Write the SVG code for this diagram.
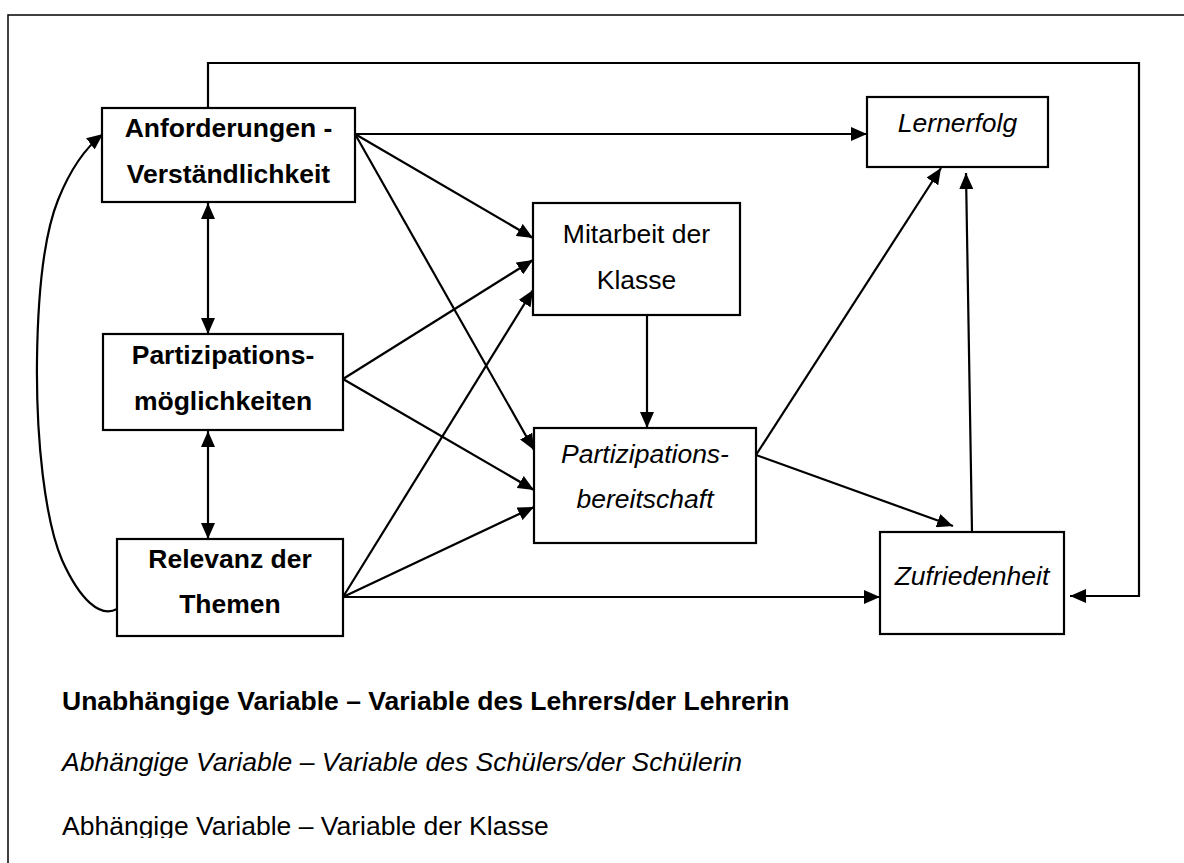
<svg xmlns="http://www.w3.org/2000/svg" width="1184" height="863" viewBox="0 0 1184 863">
  <style>
    .box { fill: #fff; stroke: #000; stroke-width: 2.2; }
    .lbl { font-family: "Liberation Sans", Arial, sans-serif; font-size: 26.5px; fill: #000; text-anchor: middle; }
    .b { font-weight: bold; }
    .i { font-style: italic; }
    .edge { fill: none; stroke: #000; stroke-width: 2.2; }
    .legend { font-family: "Liberation Sans", Arial, sans-serif; font-size: 26.5px; fill: #000; }
  </style>
  <defs>
    <marker id="arrow" viewBox="0 0 16 14" refX="16" refY="7" markerWidth="16" markerHeight="14" markerUnits="userSpaceOnUse" orient="auto-start-reverse">
      <path d="M0,0 L16,7 L0,14 z" fill="#000"/>
    </marker>
    <clipPath id="legendClip">
      <rect x="0" y="0" width="1184" height="838"/>
    </clipPath>
  </defs>

  <rect width="1184" height="863" fill="#fff"/>

  <!-- outer frame -->
  <path d="M8,863 V15 H1184" fill="none" stroke="#000" stroke-width="1.5"/>

  <!-- connectors -->
  <g id="connectors">
    <path class="edge" d="M208,108 V63 H1139 V596 H1070" stroke-width="3" marker-end="url(#arrow)"/>
    <path class="edge" d="M117,609 C100,618 80,600 62,560 C45,520 36,440 37,360 C38,280 46,230 58,200 C70,170 85,148 103,134" marker-end="url(#arrow)"/>
    <path class="edge" d="M208,203 V334" marker-start="url(#arrow)" marker-end="url(#arrow)"/>
    <path class="edge" d="M208,431 V539" marker-start="url(#arrow)" marker-end="url(#arrow)"/>
    <path class="edge" d="M355,134 H867" marker-end="url(#arrow)"/>
    <path class="edge" d="M355,134 L533,238" marker-end="url(#arrow)"/>
    <path class="edge" d="M355,134 L534,450" marker-end="url(#arrow)"/>
    <path class="edge" d="M343,379 L533,260" marker-end="url(#arrow)"/>
    <path class="edge" d="M343,379 L534,490" marker-end="url(#arrow)"/>
    <path class="edge" d="M343,597 L533,290" marker-end="url(#arrow)"/>
    <path class="edge" d="M343,597 L534,507" marker-end="url(#arrow)"/>
    <path class="edge" d="M343,597 H880" marker-end="url(#arrow)"/>
    <path class="edge" d="M647,315 V428" marker-end="url(#arrow)"/>
    <path class="edge" d="M756,455 L941,168" marker-end="url(#arrow)"/>
    <path class="edge" d="M756,455 L953,526" marker-end="url(#arrow)"/>
    <path class="edge" d="M972,532 L966,173" marker-end="url(#arrow)"/>
  </g>

  <!-- teacher variables -->
  <g id="anforderungen">
    <rect class="box" x="102" y="108" width="253" height="94"/>
    <text class="lbl b" x="228.5" y="137">Anforderungen -</text>
    <text class="lbl b" x="228.5" y="183">Verständlichkeit</text>
  </g>
  <g id="partizipationsmoeglichkeiten">
    <rect class="box" x="103" y="334" width="240" height="96"/>
    <text class="lbl b" x="223" y="364">Partizipations-</text>
    <text class="lbl b" x="223" y="410">möglichkeiten</text>
  </g>
  <g id="relevanz">
    <rect class="box" x="117" y="539" width="226" height="97"/>
    <text class="lbl b" x="230" y="568">Relevanz der</text>
    <text class="lbl b" x="230" y="613">Themen</text>
  </g>

  <!-- class variable -->
  <g id="mitarbeit">
    <rect class="box" x="533" y="203" width="207" height="112"/>
    <text class="lbl" x="636.5" y="243">Mitarbeit der</text>
    <text class="lbl" x="636.5" y="289">Klasse</text>
  </g>

  <!-- student variables -->
  <g id="partizipationsbereitschaft">
    <rect class="box" x="534" y="428" width="222" height="115"/>
    <text class="lbl i" x="645" y="463">Partizipations-</text>
    <text class="lbl i" x="645" y="508">bereitschaft</text>
  </g>
  <g id="lernerfolg">
    <rect class="box" x="867" y="97" width="181" height="70"/>
    <text class="lbl i" x="957.5" y="132">Lernerfolg</text>
  </g>
  <g id="zufriedenheit">
    <rect class="box" x="880" y="532" width="184" height="102"/>
    <text class="lbl i" x="972" y="585">Zufriedenheit</text>
  </g>

  <!-- legend -->
  <g id="legend" clip-path="url(#legendClip)">
    <text class="legend b" x="62" y="710">Unabhängige Variable – Variable des Lehrers/der Lehrerin</text>
    <text class="legend i" x="62" y="771">Abhängige Variable – Variable des Schülers/der Schülerin</text>
    <text class="legend" x="62" y="835">Abhängige Variable – Variable der Klasse</text>
  </g>
</svg>
